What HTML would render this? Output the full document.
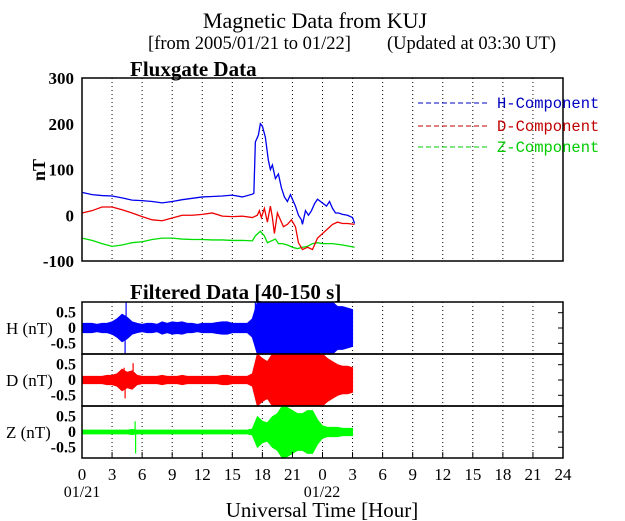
<!DOCTYPE html>
<html><head><meta charset="utf-8"><style>
html,body{margin:0;padding:0;background:#fff;}
svg{display:block;}
text{font-family:"Liberation Serif",serif;}
.mono{font-family:"Liberation Mono",monospace;}
</style></head><body>
<svg id="chart" width="625" height="521" viewBox="0 0 625 521">
<text x="315" y="28" font-size="22" text-anchor="middle">Magnetic Data from KUJ</text>
<text x="148" y="49" font-size="18.5">[from 2005/01/21 to 01/22]</text>
<text x="387" y="49" font-size="18.5">(Updated at 03:30 UT)</text>
<text x="130" y="76" font-size="21" font-weight="bold">Fluxgate Data</text>
<text x="130" y="299" font-size="21" font-weight="bold">Filtered Data [40-150 s]</text>
<text transform="translate(45,170) rotate(-90)" font-size="18" font-weight="bold" text-anchor="middle">nT</text>
<text x="322" y="517" font-size="21" text-anchor="middle">Universal Time [Hour]</text>
<text x="82" y="497" font-size="16" text-anchor="middle">01/21</text>
<text x="322" y="497" font-size="16" text-anchor="middle">01/22</text>
<g id="g"></g>
</svg>
<script>
// ---- data ----
const xTickLabels = ["0","3","6","9","12","15","18","21","0","3","6","9","12","15","18","21","24"];
const yTickLabels = [300,200,100,0,-100];
const fTickLabels = [0.5,0,-0.5];
const hTimes = [0,1,2,3,4,5,6,7,8,9,10,11,12,13,14,15,16,17,17.15,17.3,17.6,17.8,18.0,18.3,18.6,18.8,19.0,19.3,19.6,19.9,20.2,20.5,20.8,21,21.3,21.6,21.9,22.0,22.3,22.6,22.9,23.2,23.5,23.8,24.1,24.4,24.7,25.0,25.3,25.6,26,26.5,27,27.2];
const hValues = [50,45,43,42,38,33,32,30,27,30,34,37,40,41,42,44,40,46,48,160,175,200,195,170,120,100,110,80,90,60,40,30,45,35,20,0,-10,-20,10,0,10,25,35,30,25,20,30,15,5,5,2,0,-5,-18];
const dTimes = [0,1,2,3,4,5,6,7,8,9,10,11,12,13,14,15,16,17,17.5,17.7,17.9,18.2,18.5,18.8,19.0,19.2,19.5,19.8,20.1,20.5,20.9,21.3,21.6,22,22.5,23,23.5,24,24.5,25,25.5,26,26.5,27.2];
const dValues = [5,10,18,18,12,5,-3,-10,-12,-6,0,0,2,5,-2,-3,-2,-5,0,10,-5,15,-15,20,-5,-40,5,-10,-25,-20,-10,-25,-60,-75,-70,-75,-50,-40,-30,-20,-15,-18,-18,-20];
const zTimes = [0,1,2,3,4,5,6,7,8,9,10,11,12,13,14,15,16,17,17.3,17.8,18.2,18.5,19,19.3,19.6,20,20.5,21,21.5,22,22.5,23,23.5,24,25,26,27.2];
const zValues = [-50,-55,-62,-68,-65,-60,-58,-53,-50,-50,-52,-53,-53,-54,-54,-55,-55,-56,-45,-35,-45,-60,-55,-52,-62,-62,-65,-70,-73,-70,-68,-62,-60,-62,-62,-65,-70];
// filtered amplitude envelopes, every 0.5 h from 0 to 27
const hAmp = [0.15,0.15,0.15,0.12,0.15,0.15,0.2,0.3,0.45,0.35,0.2,0.15,0.12,0.15,0.15,0.12,0.2,0.15,0.2,0.18,0.2,0.15,0.15,0.12,0.15,0.15,0.15,0.18,0.2,0.2,0.15,0.15,0.15,0.15,0.3,0.85,0.85,0.85,0.85,0.85,0.85,0.85,0.85,0.85,0.85,0.85,0.85,0.85,0.85,0.85,0.85,0.7,0.7,0.65,0.6];
const dAmp = [0.12,0.12,0.12,0.12,0.12,0.15,0.15,0.2,0.35,0.25,0.3,0.15,0.12,0.12,0.12,0.12,0.15,0.12,0.12,0.12,0.15,0.12,0.12,0.12,0.12,0.12,0.12,0.12,0.15,0.15,0.12,0.12,0.12,0.12,0.2,0.85,0.7,0.6,0.85,0.85,0.85,0.85,0.85,0.85,0.85,0.85,0.85,0.85,0.85,0.7,0.6,0.5,0.45,0.45,0.4];
const zAmp = [0.06,0.06,0.06,0.06,0.06,0.06,0.06,0.06,0.06,0.06,0.08,0.06,0.06,0.06,0.06,0.06,0.06,0.06,0.06,0.06,0.06,0.06,0.06,0.06,0.06,0.06,0.06,0.06,0.06,0.06,0.06,0.06,0.06,0.06,0.1,0.5,0.35,0.3,0.5,0.6,0.85,0.8,0.7,0.6,0.6,0.7,0.7,0.4,0.2,0.15,0.15,0.15,0.12,0.12,0.12];
const hSpikeT = [4.3,4.4,17.3,17.9,19.2];
const hSpikeV = [-0.85,0.85,0.85,0.85,0.85];
const dSpikeT = [4.2,4.3,5.1];
const dSpikeV = [0.4,-0.6,0.55];
const zSpikeT = [5.3,5.35];
const zSpikeV = [0.35,-0.7];

// ---- geometry ----
const NS="http://www.w3.org/2000/svg";
const g=document.getElementById('g');
const X0=82,X1=563;
const x=h=>X0+(h/48)*(X1-X0);
const TY0=78,TY1=261;
const yT=v=>TY1-(v+100)/400*(TY1-TY0);
const panels=[{top:302,bot:354,amp:hAmp,st:hSpikeT,sv:hSpikeV,c:"#0000ff",lab:"H (nT)",n:"h"},
              {top:354,bot:406,amp:dAmp,st:dSpikeT,sv:dSpikeV,c:"#ff0000",lab:"D (nT)",n:"d"},
              {top:406,bot:458,amp:zAmp,st:zSpikeT,sv:zSpikeV,c:"#00ff00",lab:"Z (nT)",n:"z"}];
function el(t,a){const e=document.createElementNS(NS,t);for(const k in a)e.setAttribute(k,a[k]);g.appendChild(e);return e;}

for(let i=1;i<16;i++){
  const l=el('line',{x1:x(i*3),x2:x(i*3),y1:TY0,y2:TY1,stroke:'#000','stroke-width':1,'stroke-dasharray':'1,3'});
  
  
}
yTickLabels.forEach(v=>{
  const t=el('text',{x:74,y:yT(v)+6,'font-size':17,'font-weight':'bold','text-anchor':'end'});
  t.textContent=v;
  
  
});
function line(times,vals,c,name){
  const p=el('polyline',{points:times.map((t,i)=>x(t)+','+yT(vals[i])).join(' '),fill:'none',stroke:c,'stroke-width':1.3});
  
  
}
line(zTimes,zValues,'#00dd00','z-component-line');
line(dTimes,dValues,'#ee0000','d-component-line');
line(hTimes,hValues,'#0000ee','h-component-line');
const box=el('rect',{x:X0,y:TY0,width:X1-X0,height:TY1-TY0,fill:'none',stroke:'#000','stroke-width':1.5});



[["H-Component","#0000c0",103],["D-Component","#c00000",126],["Z-Component","#00cc00",147]].forEach(r=>{
  const l=el('line',{x1:418,x2:488,y1:r[2],y2:r[2],stroke:r[1],'stroke-width':1,'stroke-dasharray':'5,3'});
  
  
  const t=el('text',{x:497,y:r[2]+5,'font-size':15.5,fill:r[1],'class':'mono'});
  t.textContent=r[0];
  
  
});

panels.forEach(p=>{
  const mid=(p.top+p.bot)/2, s=(p.bot-p.top)/2/0.85;
  const yF=v=>mid-v*s;
  for(let i=1;i<16;i++){
    const l=el('line',{x1:x(i*3),x2:x(i*3),y1:p.top,y2:p.bot,stroke:'#000','stroke-width':1,'stroke-dasharray':'1,3'});
    
    
  }
  const up=[],dn=[];
  p.amp.forEach((a,i)=>{const t=i*0.5;up.push(x(t)+','+yF(a));dn.unshift(x(t)+','+yF(-a));});
  const poly=el('polygon',{points:up.concat(dn).join(' '),fill:p.c,stroke:p.c,'stroke-width':1});
  
  
  p.st.forEach((t,i)=>{
    const sp=el('line',{x1:x(t),x2:x(t),y1:mid,y2:yF(p.sv[i]),stroke:p.c,'stroke-width':1.2});
    
    
  });
  fTickLabels.forEach(v=>{
    const t=el('text',{x:76,y:yF(v)+5,'font-size':16,'font-weight':'bold','text-anchor':'end'});
    t.textContent=v;
    
    
    const tk=el('line',{x1:X1-5,x2:X1,y1:yF(v),y2:yF(v),stroke:'#000'});
    
    
  });
  const lb=el('text',{x:6,y:mid+6,'font-size':17});
  lb.textContent=p.lab;
  
  
  const r=el('rect',{x:X0,y:p.top,width:X1-X0,height:p.bot-p.top,fill:'none',stroke:'#000','stroke-width':1.5});
  
  
});
xTickLabels.forEach((s,i)=>{
  const t=el('text',{x:x(i*3),y:480,'font-size':17,'text-anchor':'middle'});
  t.textContent=s;
  
  
  const tk=el('line',{x1:x(i*3),x2:x(i*3),y1:452,y2:458,stroke:'#000'});
  
  
});
</script>
</body></html>
